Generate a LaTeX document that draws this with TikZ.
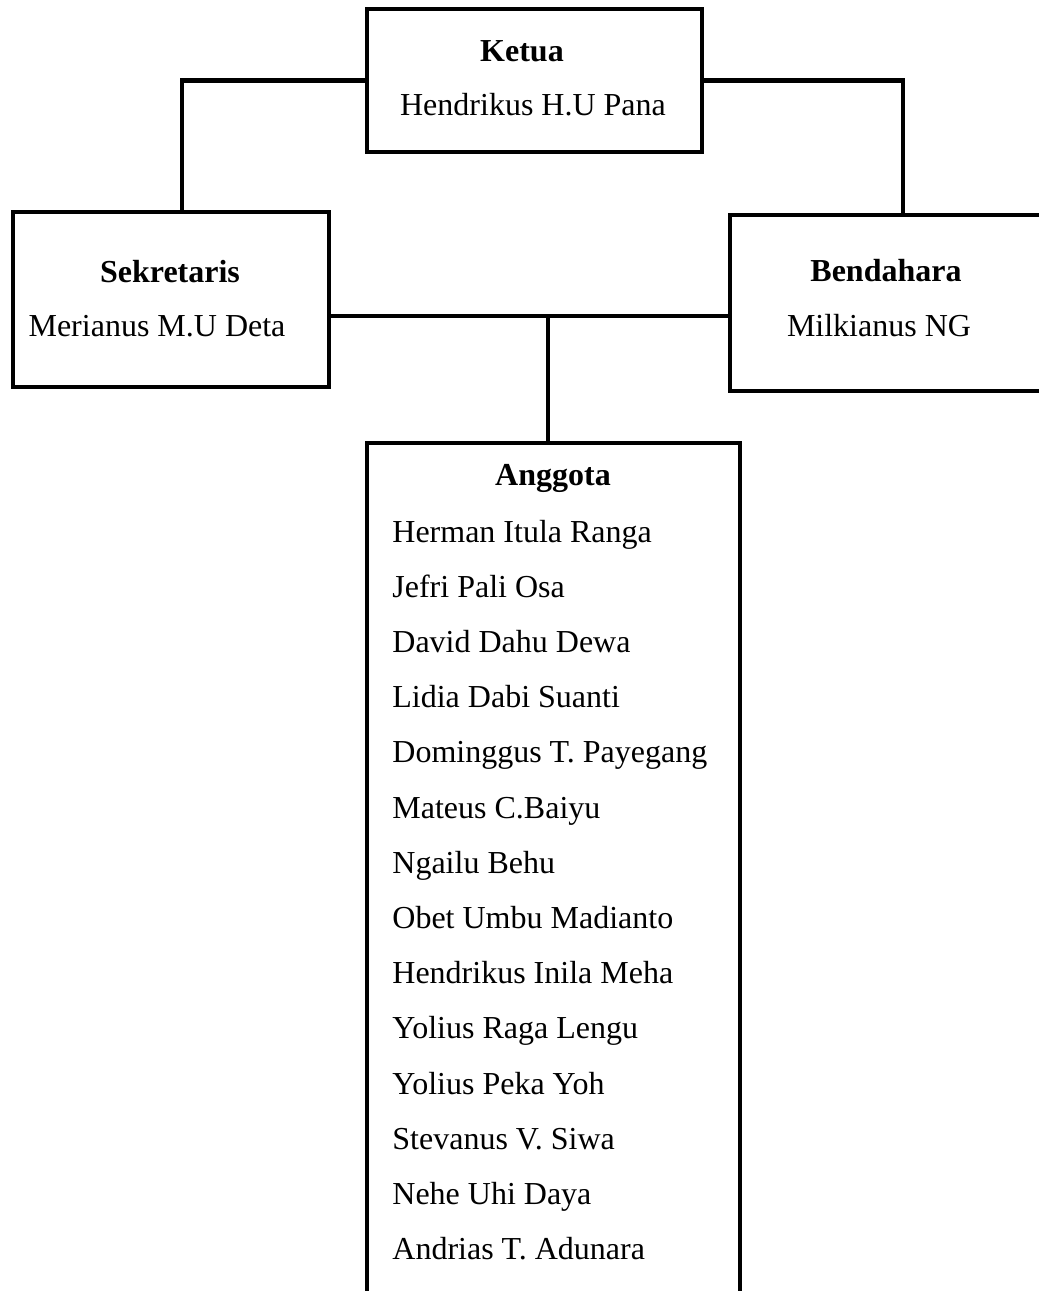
\documentclass[tikz,border=0pt]{standalone}
\usepackage{fontspec}
\setmainfont{Liberation Serif}
\usetikzlibrary{positioning}

\begin{document}
\begin{tikzpicture}[x=0.5pt,y=-0.5pt,line width=2.4pt,
  kotak/.style={draw,rectangle,inner sep=0pt},
  judul/.style={font=\fontsize{16}{20}\selectfont\bfseries,anchor=base,inner sep=0pt},
  isi/.style={font=\fontsize{16}{20}\selectfont,anchor=base,inner sep=0pt}]
\useasboundingbox (0,0) rectangle (1039,1291);
\clip (0,0) rectangle (1039,1291);
% kotak-kotak
\node[kotak,minimum width=167.5pt,minimum height=71.5pt] (ketua) at (534.5,80.5) {};
\node[kotak,minimum width=158pt,minimum height=87.5pt] (sekr) at (171,299.5) {};
\node[kotak,minimum width=157pt,minimum height=88pt] (bend) at (887,303) {};
\node[kotak,minimum width=186.5pt,minimum height=450pt] (angg) at (553.5,893) {};
% tulisan
\node[judul] (tketua) at (522,61) {Ketua};
\node[isi] (nketua) at (533,115) {Hendrikus H.U Pana};
\node[judul] (tsekr) at (170,282) {Sekretaris};
\node[isi] (nsekr) at (157,336) {Merianus M.U Deta};
\node[judul] (tbend) at (886,281) {Bendahara};
\node[isi] (nbend) at (879,336) {Milkianus NG};
\node[judul] (tangg) at (553,485) {Anggota};
\foreach \nama [count=\i from 0] in {Herman Itula Ranga, Jefri Pali Osa, David Dahu Dewa,
  Lidia Dabi Suanti, Dominggus T. Payegang, Mateus C.Baiyu, Ngailu Behu,
  Obet Umbu Madianto, Hendrikus Inila Meha, Yolius Raga Lengu, Yolius Peka Yoh,
  Stevanus V. Siwa, Nehe Uhi Daya, Andrias T. Adunara}
  \node[isi,anchor=base west] (ang\i) at (390,{542+55.2*\i}) {\nama};
% garis
\coordinate (cabang) at (548,316);
\draw (ketua.west) -| ([xshift=5.5pt]sekr.north);
\draw (ketua.east) -| ([xshift=8pt]bend.north);
\draw (sekr.east |- cabang) -- (bend.west |- cabang);
\draw (cabang) -- (cabang |- angg.north);
\end{tikzpicture}
\end{document}
